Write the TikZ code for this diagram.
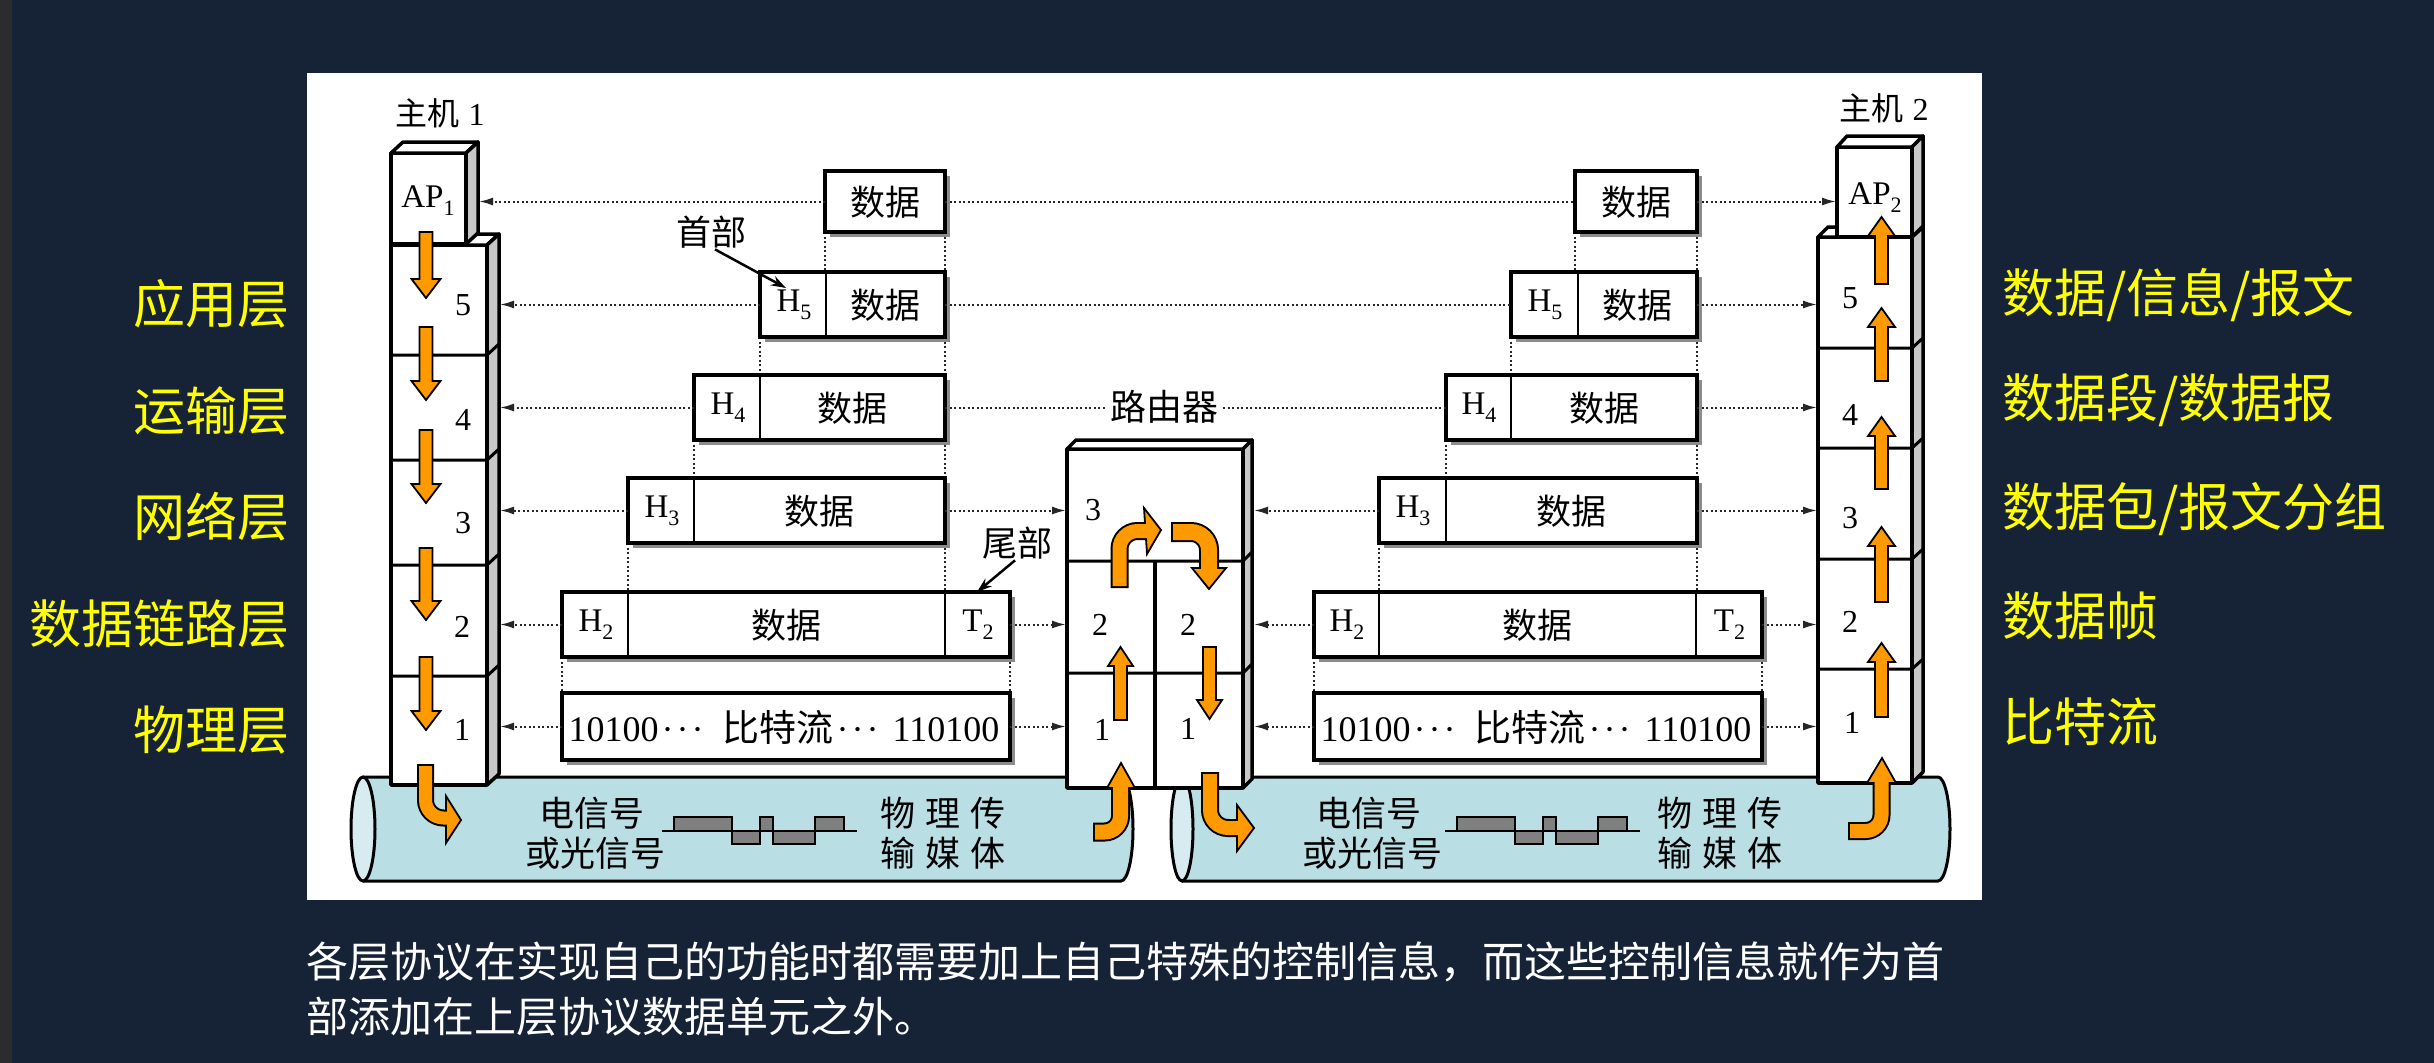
\documentclass[tikz,border=0pt]{standalone}
\usepackage{fontspec}
\setmainfont{Liberation Serif}
\newfontfamily\cjk{Noto Sans CJK SC}
\usetikzlibrary{arrows.meta}
\definecolor{bgnavy}{RGB}{22,34,54}
\definecolor{stripgray}{RGB}{44,44,46}
\definecolor{ylab}{RGB}{255,255,0}
\definecolor{cablec}{RGB}{185,222,228}
\definecolor{cableend}{RGB}{214,236,240}
\definecolor{orfill}{RGB}{255,153,0}
\definecolor{sidegray}{RGB}{200,200,200}
\definecolor{shadowgray}{RGB}{140,140,140}
\definecolor{wavegray}{RGB}{128,128,128}
\newcommand{\lsub}[1]{\raisebox{-8pt}{\fontsize{22}{24}\selectfont #1}}
\newcommand{\mdots}{·\kern3pt·\kern3pt·}
\newcommand{\bitline}{10100\kern3pt\mdots\hspace{19pt}{\cjk\fontsize{37}{40}\selectfont 比特流}\kern3pt\mdots\hspace{14pt}110100}
\newcommand{\varr}[4]{%
  \pgfmathsetmacro{\arrhb}{#3 + 19*sign(#2-#3)}%
  \filldraw[orarrow] ({#1-6.5},#2) -- ({#1+6.5},#2) -- ({#1+6.5},\arrhb) -- ({#1+#4},\arrhb) -- (#1,#3) -- ({#1-#4},\arrhb) -- ({#1-6.5},\arrhb) -- cycle;}
\newcommand{\pdubox}[5]{%
  \fill[shadowgray] ({#2+5},{#3+5}) rectangle ({#4+5},{#5+5});
  \node[pdu, minimum width={#4-#2}, minimum height={#5-#3}] (#1) at ({(#2+#4)/2},{(#3+#5)/2}) {};}
\tikzset{
  orarrow/.style={fill=orfill, draw=black, line width=1.8pt, line join=miter},
  pdu/.style={draw=black, line width=3.5pt, fill=white, inner sep=0pt, outer sep=0pt},
  divl/.style={line width=2.5pt},
  edgel/.style={line width=3.5pt, line join=round},
  dotl/.style={line width=2pt, dash pattern=on 2pt off 2.5pt, black!85},
  dotarr/.style={dotl, -{Latex[length=14pt,width=8pt]}},
  cjkt/.style={font=\cjk\fontsize{35}{40}\selectfont, inner sep=0pt},
  sert/.style={font=\fontsize{33}{38}\selectfont, inner sep=0pt},
  bitt/.style={font=\fontsize{36}{40}\selectfont, inner sep=0pt},
  numt/.style={font=\fontsize{32}{36}\selectfont, inner sep=0pt},
  ylabel/.style={font=\cjk\fontsize{52}{60}\selectfont, text=ylab, inner sep=0pt},
  foot/.style={font=\cjk\fontsize{42}{50}\selectfont, text=white, inner sep=0pt, anchor=west},
  wave/.style={fill=wavegray, draw=black, line width=2pt},
}
\begin{document}
\begin{tikzpicture}[x=1pt,y=-1pt]
\useasboundingbox (0,0) rectangle (2434,1063);
\fill[bgnavy] (0,0) rectangle (2434,1063);
\fill[stripgray] (0,0) rectangle (12,1063);
\fill[white] (307,73) rectangle (1982,900);

% ---------- cables ----------
\fill[cablec] (363,777) rectangle (1121,881);
\fill[cablec] (1121,829) ellipse [x radius=12pt, y radius=52pt];
\draw[line width=3pt] (363,777) -- (1121,777) arc[start angle=90, end angle=-90, x radius=12pt, y radius=52pt] -- (363,881);
\filldraw[fill=cableend, line width=3pt] (363,829) ellipse [x radius=12pt, y radius=52pt];

\fill[cablec] (1182,777) rectangle (1938,881);
\fill[cablec] (1938,829) ellipse [x radius=12pt, y radius=52pt];
\draw[line width=3pt] (1182,777) -- (1938,777) arc[start angle=90, end angle=-90, x radius=12pt, y radius=52pt] -- (1182,881);
\filldraw[fill=cableend, line width=3pt] (1182,829) ellipse [x radius=11pt, y radius=52pt];

% waveforms
\filldraw[wave] (674,817) rectangle (732,831);
\filldraw[wave] (732,831) rectangle (760,844);
\filldraw[wave] (760,817) rectangle (773,831);
\filldraw[wave] (773,831) rectangle (815,844);
\filldraw[wave] (815,817) rectangle (844,831);
\draw[line width=2.5pt] (662,831) -- (857,831);
\filldraw[wave] (1457,817) rectangle (1515,831);
\filldraw[wave] (1515,831) rectangle (1543,844);
\filldraw[wave] (1543,817) rectangle (1556,831);
\filldraw[wave] (1556,831) rectangle (1598,844);
\filldraw[wave] (1598,817) rectangle (1627,831);
\draw[line width=2.5pt] (1445,831) -- (1640,831);

\node[cjkt] (sigL1) at (592,813) {电信号};
\node[cjkt] (sigL2) at (595,853) {或光信号};
\node[cjkt] (medL1) at (943,813) {物\hspace{10pt}理\hspace{10pt}传};
\node[cjkt] (medL2) at (943,853) {输\hspace{10pt}媒\hspace{10pt}体};
\node[cjkt] (sigR1) at (1369,813) {电信号};
\node[cjkt] (sigR2) at (1372,853) {或光信号};
\node[cjkt] (medR1) at (1720,813) {物\hspace{10pt}理\hspace{10pt}传};
\node[cjkt] (medR2) at (1720,853) {输\hspace{10pt}媒\hspace{10pt}体};

% ---------- vertical dotted guides ----------
\foreach \xa/\ya/\yb in {825/232/272, 945/232/272, 760/337/375, 945/337/375, 694/440/478, 945/440/478, 628/543/592, 945/543/592, 562/657/693, 1010/657/693,
  1575/232/272, 1697/232/272, 1511/337/375, 1697/337/375, 1446/440/478, 1697/440/478, 1379/543/592, 1697/543/592, 1314/657/693, 1762/657/693}
  \draw[dotl] (\xa,\ya) -- (\xa,\yb);

% ---------- PDU boxes ----------
\pdubox{LD}{825}{171}{945}{232}
\pdubox{L5}{760}{272}{945}{337}
\pdubox{L4}{694}{375}{945}{440}
\pdubox{L3}{628}{478}{945}{543}
\pdubox{L2}{562}{592}{1010}{657}
\pdubox{L1}{562}{693}{1010}{760}
\pdubox{RD}{1575}{171}{1697}{232}
\pdubox{R5}{1511}{272}{1697}{337}
\pdubox{R4}{1446}{375}{1697}{440}
\pdubox{R3}{1379}{478}{1697}{543}
\pdubox{R2}{1314}{592}{1762}{657}
\pdubox{R1}{1314}{693}{1762}{760}
\draw[divl] (826,272) -- (826,337);
\draw[divl] (760,375) -- (760,440);
\draw[divl] (694,478) -- (694,543);
\draw[divl] (628,592) -- (628,657);
\draw[divl] (945,592) -- (945,657);
\draw[divl] (1578,272) -- (1578,337);
\draw[divl] (1511,375) -- (1511,440);
\draw[divl] (1446,478) -- (1446,543);
\draw[divl] (1379,592) -- (1379,657);
\draw[divl] (1696,592) -- (1696,657);

\node[cjkt] (tLD) at (885,202) {数据};
\node[sert] (tL5h) at (794,305) {H\lsub{5}};
\node[cjkt] (tL5d) at (885.5,305) {数据};
\node[sert] (tL4h) at (728,408) {H\lsub{4}};
\node[cjkt] (tL4d) at (852.5,408) {数据};
\node[sert] (tL3h) at (662,511) {H\lsub{3}};
\node[cjkt] (tL3d) at (819.5,511) {数据};
\node[sert] (tL2h) at (596,625) {H\lsub{2}};
\node[cjkt] (tL2d) at (786.5,625) {数据};
\node[sert] (tL2t) at (978,625) {T\lsub{2}};
\node[bitt] (tL1) at (784,727) {\bitline};
\node[cjkt] (tRD) at (1636,202) {数据};
\node[sert] (tR5h) at (1545,305) {H\lsub{5}};
\node[cjkt] (tR5d) at (1637.5,305) {数据};
\node[sert] (tR4h) at (1479,408) {H\lsub{4}};
\node[cjkt] (tR4d) at (1604,408) {数据};
\node[sert] (tR3h) at (1413,511) {H\lsub{3}};
\node[cjkt] (tR3d) at (1571.5,511) {数据};
\node[sert] (tR2h) at (1347,625) {H\lsub{2}};
\node[cjkt] (tR2d) at (1537.5,625) {数据};
\node[sert] (tR2t) at (1729.5,625) {T\lsub{2}};
\node[bitt] (tR1) at (1536,727) {\bitline};

% ---------- host 1 ----------
\filldraw[fill=white, edgel] (391,245) rectangle (487,785);
\filldraw[fill=white, edgel] (391,245) -- (403,234) -- (499,234) -- (487,245) -- cycle;
\filldraw[fill=sidegray, edgel] (487,245) -- (499,234) -- (499,774) -- (487,785) -- cycle;
\foreach \yy in {355,460,565,676} \draw[line width=3pt] (391,\yy) -- (487,\yy) -- (499,\yy-11);
\filldraw[fill=white, edgel] (391,153) rectangle (466,244);
\filldraw[fill=white, edgel] (391,153) -- (403,142) -- (478,142) -- (466,153) -- cycle;
\filldraw[fill=sidegray, edgel] (466,153) -- (478,142) -- (478,233) -- (466,244) -- cycle;
\node[sert] (ap1) at (428,201) {AP\lsub{1}};
\node[numt] (h1n5) at (463,305) {5};
\node[numt] (h1n4) at (463,420) {4};
\node[numt] (h1n3) at (463,523) {3};
\node[numt] (h1n2) at (462,627) {2};
\node[numt] (h1n1) at (462,730) {1};
\node[font=\fontsize{32}{36}\selectfont, inner sep=0pt] (host1) at (440,113) {{\cjk 主机}\hspace{9pt}1};

% ---------- host 2 ----------
\filldraw[fill=white, edgel] (1818,237) rectangle (1912,783);
\filldraw[fill=white, edgel] (1818,237) -- (1828,227) -- (1923,227) -- (1912,237) -- cycle;
\filldraw[fill=sidegray, edgel] (1912,237) -- (1923,227) -- (1923,772) -- (1912,783) -- cycle;
\foreach \yy in {348,448,559,669} \draw[line width=3pt] (1818,\yy) -- (1912,\yy) -- (1923,\yy-10);
\filldraw[fill=white, edgel] (1837,147) rectangle (1912,237);
\filldraw[fill=white, edgel] (1837,147) -- (1847,136) -- (1923,136) -- (1912,147) -- cycle;
\filldraw[fill=sidegray, edgel] (1912,147) -- (1923,136) -- (1923,226) -- (1912,237) -- cycle;
\node[sert] (ap2) at (1875,198) {AP\lsub{2}};
\node[numt] (h2n5) at (1850,298) {5};
\node[numt] (h2n4) at (1850,415) {4};
\node[numt] (h2n3) at (1850,518) {3};
\node[numt] (h2n2) at (1850,622) {2};
\node[numt] (h2n1) at (1852,723) {1};
\node[font=\fontsize{32}{36}\selectfont, inner sep=0pt] (host2) at (1884,108) {{\cjk 主机}\hspace{9pt}2};

% ---------- router ----------
\filldraw[fill=white, edgel] (1067,449) rectangle (1243,788);
\filldraw[fill=white, edgel] (1067,449) -- (1076,440) -- (1252,440) -- (1243,449) -- cycle;
\filldraw[fill=sidegray, edgel] (1243,449) -- (1252,440) -- (1252,779) -- (1243,788) -- cycle;
\foreach \yy in {561,673} \draw[line width=3pt] (1067,\yy) -- (1243,\yy) -- (1252,\yy-9);
\draw[line width=4pt] (1155,561) -- (1155,788);
\node[numt] (rn3) at (1093,510) {3};
\node[numt] (rn2a) at (1100,625) {2};
\node[numt] (rn2b) at (1188,625) {2};
\node[numt] (rn1a) at (1102,730) {1};
\node[numt] (rn1b) at (1188,729) {1};
\node[cjkt, font=\cjk\fontsize{36}{40}\selectfont, inner xsep=5pt] (rtlab) at (1164,407) {路由器};

% ---------- dotted connectors ----------
\coordinate (AP1s) at (479,0);
\coordinate (S1s) at (500,0);
\coordinate (RTl) at (1066,0);
\coordinate (RTr) at (1254,0);
\coordinate (S2s) at (1817,0);
\coordinate (AP2s) at (1836,0);
\draw[dotarr] (LD.west) -- (LD.west -| AP1s);
\draw[dotl] (LD.east) -- (RD.west);
\draw[dotarr] (RD.east) -- (RD.east -| AP2s);
\draw[dotarr] (L5.west) -- (L5.west -| S1s);
\draw[dotl] (L5.east) -- (R5.west);
\draw[dotarr] (R5.east) -- (R5.east -| S2s);
\draw[dotarr] (L4.west) -- (L4.west -| S1s);
\draw[dotl] (L4.east) -- (L4.east -| rtlab.west);
\draw[dotl] (R4.west -| rtlab.east) -- (R4.west);
\draw[dotarr] (R4.east) -- (R4.east -| S2s);
\foreach \n in {3,2,1} {
  \draw[dotarr] (L\n.west) -- (L\n.west -| S1s);
  \draw[dotarr] (L\n.east) -- (L\n.east -| RTl);
  \draw[dotarr] (R\n.west) -- (R\n.west -| RTr);
  \draw[dotarr] (R\n.east) -- (R\n.east -| S2s);
}

% header / trailer labels
\node[cjkt] (hdr) at (711,232) {首部};
\draw[line width=2.5pt, -{Stealth[length=15pt,width=10pt]}] (hdr.south) ++(4,1) -- (786,288);
\node[cjkt] (trl) at (1017,543) {尾部};
\draw[line width=2.5pt, -{Stealth[length=15pt,width=10pt]}] (trl.south) ++(-2,1) -- (977,592);

% ---------- orange arrows ----------
\varr{426}{232}{298}{14.5}
\varr{426}{327}{400}{14.5}
\varr{426}{430}{503}{14.5}
\varr{426}{548}{620}{14.5}
\varr{426}{657}{730}{14.5}
\varr{1881.5}{284}{217}{13.5}
\varr{1881.5}{381}{308}{13.5}
\varr{1881.5}{489}{417}{13.5}
\varr{1881.5}{602}{527}{13.5}
\varr{1881.5}{717}{643}{13.5}
\varr{1120.5}{720}{647}{12.5}
\varr{1209.5}{647}{719}{12.5}

% host1 bottom, curving right
\draw[black, line width=17pt, rounded corners=18pt] (425.5,764) -- (425.5,818) -- (447,818);
\filldraw[orarrow] (446,796) -- (461,820) -- (446,843) -- cycle;
\draw[orfill, line width=13pt, rounded corners=18pt, shorten <=2pt] (425.5,764) -- (425.5,818) -- (450,818);
% router left bottom, curving up
\draw[black, line width=19pt, rounded corners=16pt] (1093,832) -- (1120.5,832) -- (1120.5,788);
\filldraw[orarrow] (1107,788) -- (1121,763) -- (1135,788) -- cycle;
\draw[orfill, line width=15pt, rounded corners=16pt, shorten <=2pt] (1093,832) -- (1120.5,832) -- (1120.5,785);
% router 2 -> 3
\draw[black, line width=18pt, rounded corners=18pt] (1119.5,588) -- (1119.5,531) -- (1146,531);
\filldraw[orarrow] (1144,508) -- (1161,530) -- (1147,554) -- cycle;
\draw[orfill, line width=14pt, rounded corners=18pt, shorten <=2pt] (1119.5,588) -- (1119.5,531) -- (1149,531);
% router 3 -> 2 (right)
\draw[black, line width=20pt, rounded corners=18pt] (1171,532) -- (1209,532) -- (1209,569);
\filldraw[orarrow] (1192,568) -- (1226,568) -- (1209,589) -- cycle;
\draw[orfill, line width=16pt, rounded corners=18pt, shorten <=2pt] (1171,532) -- (1209,532) -- (1209,572);
% router right bottom, curving right
\draw[black, line width=18pt, rounded corners=18pt] (1210,772) -- (1210,828) -- (1238,828);
\filldraw[orarrow] (1237,805) -- (1254,828) -- (1237,851) -- cycle;
\draw[orfill, line width=14pt, rounded corners=18pt, shorten <=2pt] (1210,772) -- (1210,828) -- (1240,828);
% host2 bottom, curving up
\draw[black, line width=18pt, rounded corners=16pt] (1848,831) -- (1881.5,831) -- (1881.5,783);
\filldraw[orarrow] (1867,783) -- (1882,758) -- (1896,783) -- cycle;
\draw[orfill, line width=14pt, rounded corners=16pt, shorten <=2pt] (1848,831) -- (1881.5,831) -- (1881.5,780);

% ---------- side labels ----------
\node[ylabel, anchor=east] (yl5) at (290,304) {应用层};
\node[ylabel, anchor=east] (yl4) at (290,411) {运输层};
\node[ylabel, anchor=east] (yl3) at (290,517) {网络层};
\node[ylabel, anchor=east] (yl2) at (290,624) {数据链路层};
\node[ylabel, anchor=east] (yl1) at (290,730) {物理层};
\node[ylabel, anchor=west] (yr5) at (2002,295) {数据/信息/报文};
\node[ylabel, anchor=west] (yr4) at (2002,400) {数据段/数据报};
\node[ylabel, anchor=west] (yr3) at (2002,509) {数据包/报文分组};
\node[ylabel, anchor=west] (yr2) at (2002,616) {数据帧};
\node[ylabel, anchor=west] (yr1) at (2002,722) {比特流};

% ---------- footnote ----------
\node[foot] (ft1) at (306,962) {各层协议在实现自己的功能时都需要加上自己特殊的控制信息，而这些控制信息就作为首};
\node[foot] (ft2) at (306,1017) {部添加在上层协议数据单元之外。};
\end{tikzpicture}
\end{document}
